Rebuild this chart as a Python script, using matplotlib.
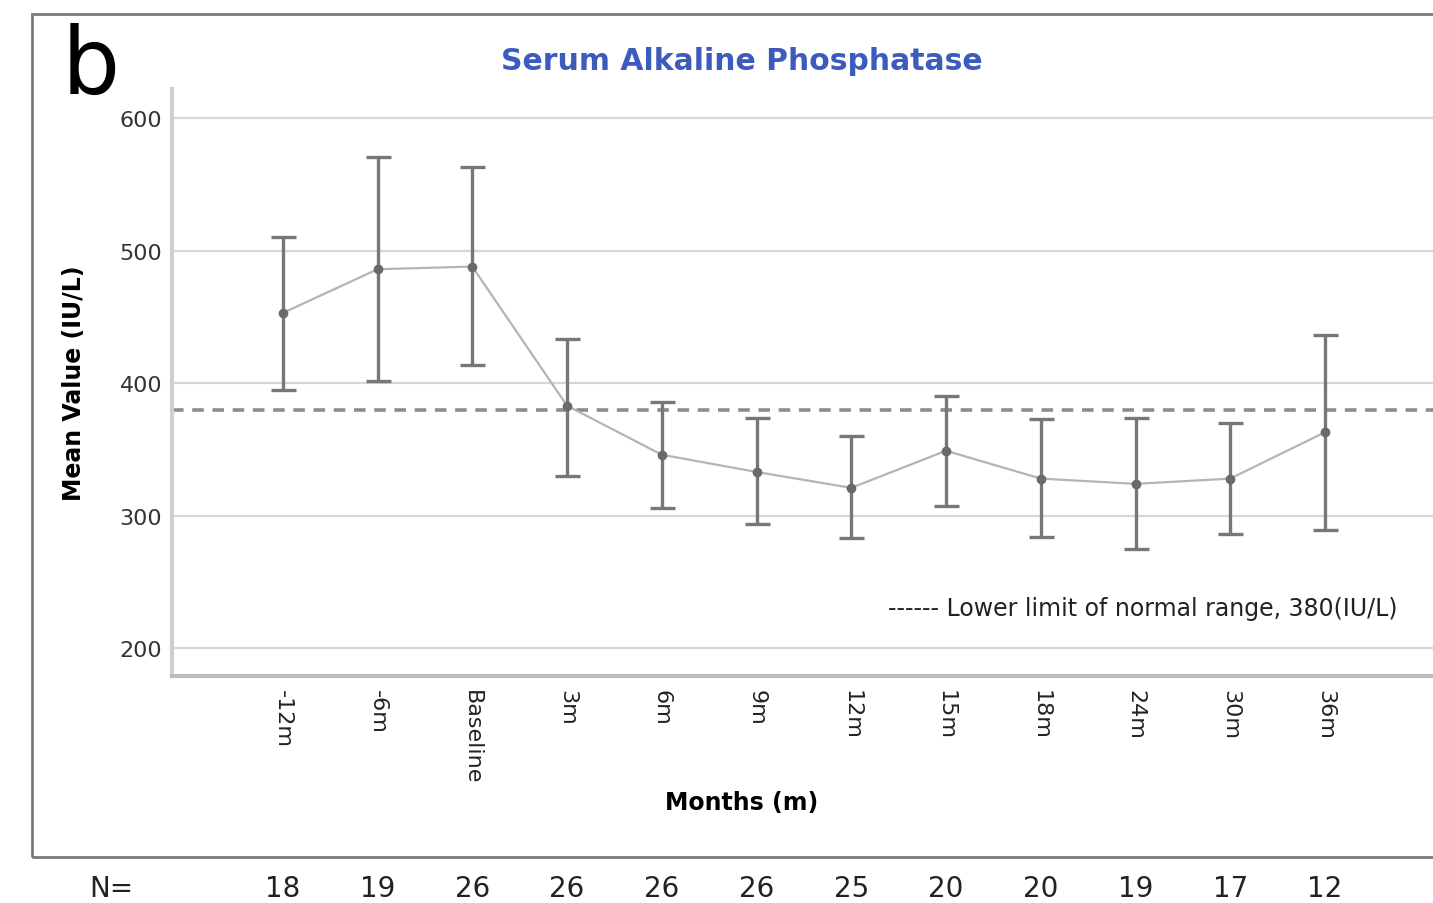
"""Serum alkaline phosphatase over time: mean with error bars, panel b."""

import matplotlib

matplotlib.use("Agg")
import matplotlib.pyplot as plt
from matplotlib.patches import Rectangle
import matplotlib.transforms as mtransforms

# data
timepoints = ["-12m", "-6m", "Baseline", "3m", "6m", "9m", "12m", "15m", "18m", "24m", "30m", "36m"]
mean_alp = [453, 486, 488, 383, 346, 333, 321, 349, 328, 324, 328, 363]
upper_ci = [510, 571, 563, 433, 386, 374, 360, 390, 373, 374, 370, 436]
lower_ci = [395, 402, 414, 330, 306, 294, 283, 307, 284, 275, 286, 289]
n_counts = [18, 19, 26, 26, 26, 26, 25, 20, 20, 19, 17, 12]
lower_normal = 380

fig = plt.figure(figsize=(14.33, 9.04), dpi=100)
ax = fig.add_axes([0.12, 0.2511, 0.88, 0.6493])

x = list(range(len(timepoints)))
err_lo = [m - lo for m, lo in zip(mean_alp, lower_ci)]
err_hi = [hi - m for m, hi in zip(mean_alp, upper_ci)]

for y in [200, 300, 400, 500, 600]:
    ax.axhline(y, color="#d6d6d6", lw=1.6, zorder=0)

ax.axhline(lower_normal, color="#8c8c8c", lw=2.6, dashes=(3.2, 2.4), zorder=1)

ax.plot(x, mean_alp, color="#b4b4b4", lw=1.6, zorder=2)
ax.errorbar(x, mean_alp, yerr=[err_lo, err_hi], fmt="none", ecolor="#777777",
            elinewidth=2.4, capsize=9, capthick=2.4, zorder=3)
ax.plot(x, mean_alp, "o", color="#6a6a6a", ms=6, zorder=4)

ax.set_xlim(-1.17, 12.14)
ax.set_ylim(179, 622)
ax.set_yticks([200, 300, 400, 500, 600])
ax.set_xticks(x)
ax.set_xticklabels(timepoints, rotation=270, fontsize=16, color="#222222")
ax.tick_params(axis="y", labelsize=16, colors="#333333", length=0, pad=7)
ax.tick_params(axis="x", length=0, pad=9)

for side in ["top", "right"]:
    ax.spines[side].set_visible(False)
ax.spines["left"].set_color("#cfcfcf")
ax.spines["left"].set_linewidth(3)
ax.spines["bottom"].set_color("#bdbdbd")
ax.spines["bottom"].set_linewidth(3)

ax.set_ylabel("Mean Value (IU/L)", fontsize=17, fontweight="bold")
ax.yaxis.set_label_coords(-0.068, 0.5)
ax.set_xlabel("Months (m)", fontsize=17, fontweight="bold", va="center")
ax.xaxis.set_label_coords(0.452, -0.215)

ax.text(11.77, 230, "------ Lower limit of normal range, 380(IU/L)", ha="right",
        va="center", fontsize=17, color="#222222")

fig.text(0.518, 0.932, "Serum Alkaline Phosphatase", ha="center", va="center",
         fontsize=21.5, fontweight="bold", color="#3d5bbd")
fig.text(0.043, 0.925, "b", ha="left", va="center", fontsize=66, color="black")

# outer panel frame, running off the right edge
fig.patches.append(Rectangle((0.0223, 0.0509), 1.1, 0.9325, transform=fig.transFigure,
                             fill=False, edgecolor="#7a7a7a", lw=2))

# sample sizes under the frame
trans = mtransforms.blended_transform_factory(ax.transData, fig.transFigure)
fig.text(0.078, 0.017, "N=", ha="center", va="center", fontsize=20, color="#222222")
for xi, n in zip(x, n_counts):
    ax.text(xi, 0.017, str(n), transform=trans, ha="center", va="center",
            fontsize=20, color="#222222", clip_on=False)

fig.savefig("out.png", dpi=100)
